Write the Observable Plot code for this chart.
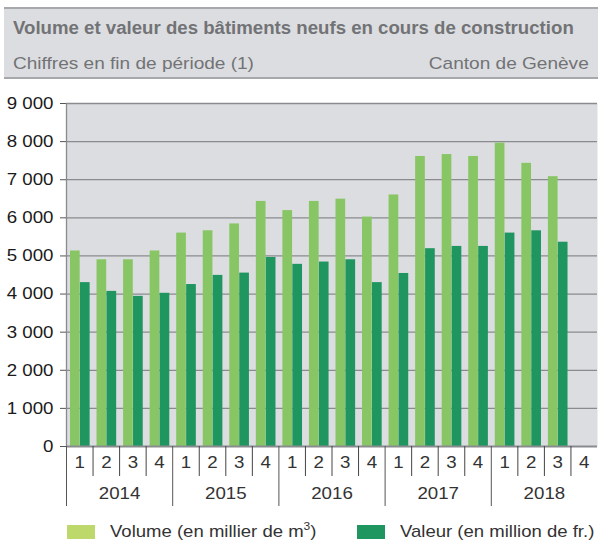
<!DOCTYPE html>
<html>
<head>
<meta charset="utf-8">
<script src="https://cdn.jsdelivr.net/npm/d3@7"></script>
<script src="https://cdn.jsdelivr.net/npm/@observablehq/plot@0.6"></script>
<style>
  html, body { margin: 0; padding: 0; background: #fff; }
  body { width: 598px; height: 543px; position: relative; overflow: hidden; font-family: "Liberation Sans", Arial, sans-serif; }
  #header { position: absolute; left: 4px; top: 7px; width: 594px; height: 72px; background: #dcdde0;
            border-top: 2px solid #a7a8ab; border-bottom: 2px solid #a7a8ab; box-sizing: border-box; color: #727376; }
  #title { position: absolute; left: 9px; top: 9px; font-weight: bold; font-size: 18px; white-space: nowrap; transform: scaleX(1.035); transform-origin: left center; }
  #subtitle { position: absolute; left: 9px; top: 45px; font-size: 17px; white-space: nowrap; transform: scaleX(1.12); transform-origin: left center; }
  #source { position: absolute; right: 9px; top: 45px; font-size: 17px; white-space: nowrap; transform: scaleX(1.12); transform-origin: right center; }
  #chart { position: absolute; left: 0; top: 88px; }
  .leg { position: absolute; top: 524px; height: 16px; display: flex; align-items: center; font-size: 17px; color: #333; white-space: nowrap; }
  .leg span { display: inline-block; transform: scaleX(1.09); transform-origin: left center; }
  .sw { width: 28px; height: 14px; margin-right: 15px; }
  sup { font-size: 11px; line-height: 0; }
</style>
</head>
<body>
<div id="header">
  <div id="title">Volume et valeur des bâtiments neufs en cours de construction</div>
  <div id="subtitle">Chiffres en fin de période (1)</div>
  <div id="source">Canton de Genève</div>
</div>
<div id="chart"></div>
<div class="leg" id="leg0" style="left:67px"><div class="sw" style="background:#bdd86b"></div><span>Volume (en millier de m<sup>3</sup>)</span></div>
<div class="leg" id="leg1" style="left:357px"><div class="sw" style="background:#1f9660"></div><span>Valeur (en million de fr.)</span></div>
<script>
const years = [2014, 2015, 2016, 2017, 2018];
const quarters = [1, 2, 3, 4];
const seriesNames = ["Volume (en millier de m³)", "Valeur (en million de fr.)"];
const volume = [5130, 4900, 4900, 5130, 5600, 5660, 5840, 6430, 6190, 6430, 6490, 6020, 6600, 7610, 7660, 7610, 7960, 7430, 7080, null];
const valeur = [4300, 4070, 3940, 4020, 4250, 4490, 4550, 4960, 4780, 4840, 4900, 4300, 4540, 5190, 5250, 5250, 5600, 5660, 5360, null];
const yTicks = [0, 1000, 2000, 3000, 4000, 5000, 6000, 7000, 8000, 9000];

const rows = [];
years.forEach((y, yi) => quarters.forEach((q, qi) => {
  const i = yi * 4 + qi;
  rows.push({i, year: y, q, volume: volume[i], valeur: valeur[i]});
}));
const n = rows.length;

const fmt = d => d3.format(",")(d).replace(/,/g, " ");

const chart = Plot.plot({
  width: 598,
  height: 430,
  marginTop: 15,
  marginBottom: 72,
  marginLeft: 66,
  marginRight: 1,
  x: {domain: [0, n], axis: null},
  y: {domain: [0, 9000], axis: null},
  style: {fontFamily: "'Liberation Sans', Arial, sans-serif", fontSize: "17px", background: "transparent", overflow: "visible"},
  marks: [
    Plot.frame({fill: "#dcdde0", stroke: null}),
    Plot.gridY(yTicks.filter(d => d > 0), {stroke: "#8a8b8e", strokeOpacity: 1, strokeWidth: 1.3}),
    Plot.rectY(rows.filter(d => d.volume != null), {x1: d => d.i + 0.15, x2: d => d.i + 0.515, y: "volume", fill: "#88c665"}),
    Plot.rectY(rows.filter(d => d.valeur != null), {x1: d => d.i + 0.525, x2: d => d.i + 0.89, y: "valeur", fill: "#1f9660"}),
    Plot.ruleY([0], {stroke: "#8a8b8e", strokeWidth: 2}),
    Plot.ruleX([0], {stroke: "#8a8b8e", strokeWidth: 1.3}),
    Plot.axisY({ticks: yTicks, tickFormat: fmt, tickSize: 6, tickPadding: 7, stroke: "#555", fill: "#1a1a1a", fontSize: 17, label: null}),
    // quarter separators
    Plot.axisX({ticks: d3.range(1, n).filter(d => d % 4 !== 0), tickSize: 30, tickFormat: () => "", stroke: "#444", label: null}),
    // year separators
    Plot.axisX({ticks: d3.range(0, n, 4), tickSize: 60, tickFormat: () => "", stroke: "#555", label: null}),
    // quarter labels
    Plot.axisX({ticks: rows.map(d => d.i + 0.5), tickSize: 0, tickPadding: 9, tickFormat: (d) => String(rows[Math.floor(d)].q), fill: "#333", fontSize: 17, label: null}),
    // year labels
    Plot.axisX({ticks: years.map((y, yi) => yi * 4 + 2), tickSize: 0, tickPadding: 40, tickFormat: (d) => String(years[Math.round((d - 2) / 4)]), fill: "#333", fontSize: 17, label: null})
  ]
});
// widen tick label glyphs slightly (the reference font is wider)
chart.querySelectorAll("text").forEach(t => {
  if (!t.textContent) return;
  let tr = t.getAttribute("transform") || "";
  const x = t.getAttribute("x");
  if (x != null) { t.removeAttribute("x"); tr += ` translate(${x},0)`; }
  t.setAttribute("transform", tr + " scale(1.1,1)");
});
document.getElementById("chart").appendChild(chart);
</script>
</body>
</html>
